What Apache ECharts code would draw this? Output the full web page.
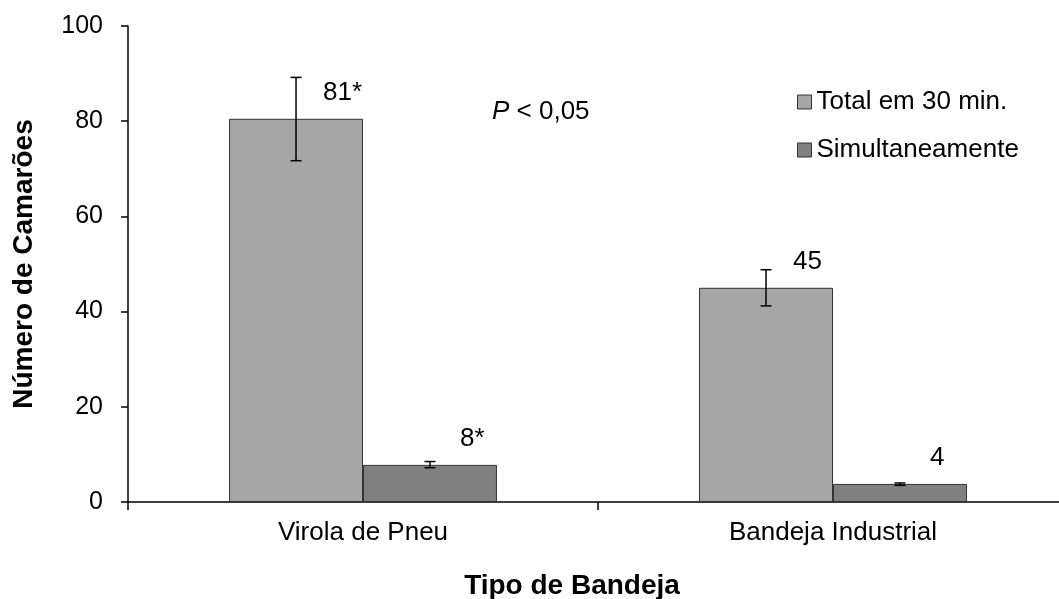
<!DOCTYPE html>
<html>
<head>
<meta charset="utf-8">
<script src="https://cdn.jsdelivr.net/npm/echarts@6/dist/echarts.min.js"></script>
<style>html,body{margin:0;padding:0;background:#fff;}#c{width:1059px;height:599px;}</style>
</head>
<body>
<div id="c"></div>
<script>
const categories = ['Virola de Pneu', 'Bandeja Industrial'];
const seriesNames = ['Total em 30 min.', 'Simultaneamente'];
const totalValues = [80.5, 45.0];
const simultValues = [7.8, 3.8];
const totalErrLow = [71.7, 41.2];
const totalErrHigh = [89.2, 48.8];
const simultErrLow = [7.2, 3.5];
const simultErrHigh = [8.5, 4.0];
const totalLabels = ['81*', '45'];
const simultLabels = ['8*', '4'];
const yTicks = [0, 20, 40, 60, 80, 100];

const FONT = '"Liberation Sans", Arial, sans-serif';
const BAR_FRAC = 0.285;
const FS = 26;

function errSeries(low, high, sign) {
  return {
    type: 'custom',
    z: 5,
    silent: true,
    data: low.map((l, i) => [i, l, high[i]]),
    encode: { x: 0, y: [1, 2] },
    renderItem: function (params, api) {
      const band = api.size([1, 0])[0];
      const off = sign * band * BAR_FRAC / 2;
      const lo = api.coord([api.value(0), api.value(1)]);
      const hi = api.coord([api.value(0), api.value(2)]);
      const x = lo[0] + off;
      const cap = 5.5;
      const style = { stroke: '#000', lineWidth: 1.5 };
      return {
        type: 'group',
        children: [
          { type: 'line', shape: { x1: x, y1: lo[1], x2: x, y2: hi[1] }, style: style },
          { type: 'line', shape: { x1: x - cap, y1: lo[1], x2: x + cap, y2: lo[1] }, style: style },
          { type: 'line', shape: { x1: x - cap, y1: hi[1], x2: x + cap, y2: hi[1] }, style: style }
        ]
      };
    }
  };
}

const chart = echarts.init(document.getElementById('c'), null, { renderer: 'canvas' });
chart.setOption({
  animation: false,
  backgroundColor: '#fff',
  textStyle: { fontFamily: FONT },
  grid: { left: 128, top: 26, width: 940, height: 476, containLabel: false, outerBoundsMode: 'none' },
  legend: {
    orient: 'vertical',
    left: 792,
    top: 84,
    icon: 'rect',
    itemWidth: 14,
    itemHeight: 14,
    itemGap: 22,
    data: seriesNames,
    textStyle: { fontFamily: FONT, fontSize: FS, color: '#000' },
    itemStyle: { borderColor: '#333', borderWidth: 1 }
  },
  xAxis: {
    type: 'category',
    data: categories,
    name: 'Tipo de Bandeja',
    nameLocation: 'middle',
    nameGap: 70,
    nameTextStyle: { fontFamily: FONT, fontSize: 28, fontWeight: 'bold', color: '#000', padding: [0, 52, 0, 0] },
    axisLine: { lineStyle: { color: '#000', width: 1.5 } },
    axisTick: { show: true, length: 8, alignWithLabel: false, lineStyle: { color: '#000', width: 1.5 } },
    axisLabel: { fontFamily: FONT, fontSize: FS, color: '#000', margin: 18 },
    splitLine: { show: false }
  },
  yAxis: {
    type: 'value',
    min: yTicks[0],
    max: yTicks[yTicks.length - 1],
    interval: 20,
    name: 'Número de Camarões',
    nameLocation: 'middle',
    nameRotate: 90,
    nameGap: 90,
    nameTextStyle: { fontFamily: FONT, fontSize: 28, fontWeight: 'bold', color: '#000' },
    axisLine: { show: true, lineStyle: { color: '#000', width: 1.5 } },
    axisTick: { show: true, inside: false, length: 7, lineStyle: { color: '#000', width: 1.5 } },
    axisLabel: { fontFamily: FONT, fontSize: 25, color: '#000', margin: 25 },
    splitLine: { show: false }
  },
  series: [
    {
      name: seriesNames[0],
      type: 'bar',
      data: totalValues,
      barWidth: (BAR_FRAC * 100) + '%',
      barGap: '0%',
      itemStyle: { color: '#A6A6A6', borderColor: '#333', borderWidth: 1 },
      label: {
        show: true,
        position: [94, -26],
        align: 'left',
        verticalAlign: 'middle',
        fontFamily: FONT,
        fontSize: FS,
        color: '#000',
        formatter: p => totalLabels[p.dataIndex]
      }
    },
    {
      name: seriesNames[1],
      type: 'bar',
      data: simultValues,
      barWidth: (BAR_FRAC * 100) + '%',
      barGap: '0%',
      itemStyle: { color: '#808080', borderColor: '#333', borderWidth: 1 },
      label: {
        show: true,
        position: [97, -26],
        align: 'left',
        verticalAlign: 'middle',
        fontFamily: FONT,
        fontSize: FS,
        color: '#000',
        formatter: p => simultLabels[p.dataIndex]
      }
    },
    errSeries(totalErrLow, totalErrHigh, -1),
    errSeries(simultErrLow, simultErrHigh, 1)
  ],
  graphic: [
    {
      type: 'text',
      left: 492,
      top: 99,
      style: {
        text: '{i|P} < 0,05',
        font: FS + 'px ' + FONT,
        fill: '#000',
        rich: { i: { fontStyle: 'italic', fontFamily: FONT, fontSize: FS, fill: '#000' } }
      }
    }
  ]
});
</script>
</body>
</html>
